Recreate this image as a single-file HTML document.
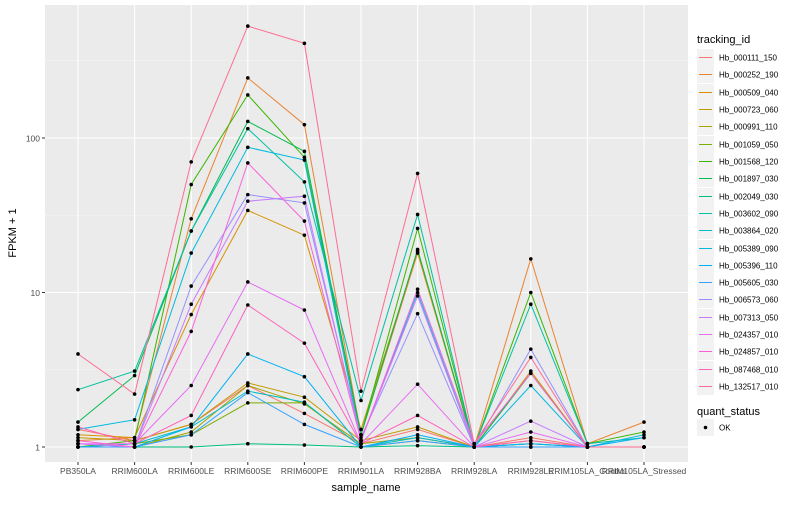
<!DOCTYPE html>
<html><head><meta charset="utf-8"><style>
body{margin:0;background:#fff;font-family:"Liberation Sans",sans-serif}
svg text{font-family:"Liberation Sans",sans-serif}
</style></head><body>
<svg id="c" width="800" height="500"></svg>
<script>
const categories=["PB350LA","RRIM600LA","RRIM600LE","RRIM600SE","RRIM600PE","RRIM901LA","RRIM928BA","RRIM928LA","RRIM928LE","RRIM105LA_Control","RRIM105LA_Stressed"];
const seriesNames=["Hb_000111_150","Hb_000252_190","Hb_000509_040","Hb_000723_060","Hb_000991_110","Hb_001059_050","Hb_001568_120","Hb_001897_030","Hb_002049_030","Hb_003602_090","Hb_003864_020","Hb_005389_090","Hb_005396_110","Hb_005605_030","Hb_006573_060","Hb_007313_050","Hb_024357_010","Hb_024857_010","Hb_087468_010","Hb_132517_010"];
const s01=[1.3,1.1,1.4,2.5,1.65,1.05,1.3,1.0,1.15,1.0,1.0];
const s02=[1.1,1.15,30,245,122,1.2,18,1.0,16.5,1.05,1.45];
const s03=[1.2,1.15,7.2,34,23.5,1.3,18.5,1.0,3.1,1.0,1.0];
const s04=[1.15,1.1,1.4,2.6,2.1,1.1,1.35,1.0,1.1,1.0,1.0];
const s05=[1.0,1.0,1.25,2.5,1.9,1.05,1.15,1.0,1.05,1.0,1.0];
const s06=[1.0,1.05,1.2,1.93,1.93,1.0,1.1,1.0,1.0,1.0,1.0];
const s07=[1.0,1.1,50,190,75,1.2,26,1.0,10,1.05,1.25];
const s08=[1.45,2.9,25,128,82,1.2,19,1.0,3.0,1.0,1.0];
const s09=[1.0,1.0,1.0,1.05,1.03,1.0,1.02,1.0,1.0,1.0,1.0];
const s10=[2.35,3.1,25,115,52,2.0,32,1.0,8.4,1.05,1.15];
const s11=[1.0,1.05,1.35,2.3,1.95,1.0,1.15,1.0,1.05,1.0,1.0];
const s12=[1.3,1.5,18,87,72,1.1,10,1.0,2.5,1.0,1.2];
const s13=[1.0,1.0,1.35,4.0,2.85,1.0,1.2,1.0,1.05,1.0,1.15];
const s14=[1.0,1.0,1.2,2.25,1.4,1.0,1.1,1.0,1.0,1.0,1.0];
const s15=[1.05,1.0,11,43,38,1.15,7.3,1.0,4.3,1.0,1.0];
const s16=[1.05,1.0,8.4,39,42,1.1,9.5,1.0,1.47,1.0,1.0];
const s17=[1.05,1.05,2.5,11.7,7.7,1.05,2.55,1.0,1.25,1.0,1.0];
const s18=[1.1,1.0,5.6,69,29,1.1,10.5,1.05,3.0,1.0,1.0];
const s19=[1.35,1.05,1.6,8.3,4.7,1.05,1.6,1.0,1.1,1.0,1.0];
const s20=[4.0,2.2,70,530,410,2.3,59,1.05,3.8,1.0,1.0];
const seriesValues=[s01,s02,s03,s04,s05,s06,s07,s08,s09,s10,s11,s12,s13,s14,s15,s16,s17,s18,s19,s20];
const colors=["#F8766D","#EA8331","#D89000","#C09B00","#A3A500","#7CAE00","#39B600","#00BB4E","#00BF7D","#00C1A3","#00BFC4","#00BAE0","#00B0F6","#35A2FF","#9590FF","#C77CFF","#E76BF3","#FA62DB","#FF62BC","#FF6C91"];
const yTicks=[1,10,100];
const yTickLabels=["1","10","100"];

const NS="http://www.w3.org/2000/svg";
const svg=document.getElementById('c');
const PL=45,PR=688,PT=5,PB=462;
function xPos(i){return 78+i*56.6;}
function yPos(v){return 447-Math.log10(v)*154.5;}
function mk(t,a,p){const e=document.createElementNS(NS,t);for(const k in a)e.setAttribute(k,a[k]);(p||svg).appendChild(e);return e;}

const panel=mk('rect',{x:PL,y:PT,width:PR-PL,height:PB-PT,fill:'#EBEBEB'});


[0.5,1.5,2.5].forEach(m=>{const y=447-m*154.5;if(y>PT)mk('line',{x1:PL,x2:PR,y1:y,y2:y,stroke:'#F5F5F5','stroke-width':0.6});});
yTicks.forEach((t,i)=>{const y=yPos(t);
 const g=mk('line',{x1:PL,x2:PR,y1:y,y2:y,stroke:'#fff','stroke-width':1.1});
 
 
 mk('line',{x1:PL-3,x2:PL,y1:y,y2:y,stroke:'#333'});
 const tx=mk('text',{x:PL-5,y:y+3.5,'text-anchor':'end','font-size':8.5,fill:'#4D4D4D'});tx.textContent=yTickLabels[i];
 
 
});
categories.forEach((c,i)=>{const x=xPos(i);
 mk('line',{x1:x,x2:x,y1:PT,y2:PB,stroke:'#fff','stroke-width':1.1});
 mk('line',{x1:x,x2:x,y1:PB,y2:PB+3,stroke:'#333'});
 const tx=mk('text',{x:x,y:PB+12,'text-anchor':'middle','font-size':8.5,fill:'#4D4D4D'});tx.textContent=c;
 
 
});
seriesValues.forEach((vals,si)=>{
 const pts=vals.map((v,i)=>xPos(i).toFixed(1)+','+yPos(v).toFixed(1)).join(' ');
 const pl=mk('polyline',{points:pts,fill:'none',stroke:colors[si],'stroke-width':1});
 
 
});
seriesValues.forEach((vals,si)=>{vals.forEach((v,i)=>{
 const p=mk('circle',{cx:xPos(i),cy:yPos(v),r:1.8,fill:'#000'});
 
 
});});
let t=mk('text',{x:366,y:491,'text-anchor':'middle','font-size':11,fill:'#000'});t.textContent='sample_name';


t=mk('text',{x:0,y:0,'text-anchor':'middle','font-size':11,fill:'#000',transform:'translate(16,233) rotate(-90)'});t.textContent='FPKM + 1';


t=mk('text',{x:697,y:43,'font-size':11,fill:'#000'});t.textContent='tracking_id';


seriesNames.forEach((n,i)=>{const y=Math.round(57+i*17.32)+0.5;
 const g=mk('g',{});
 
 
 mk('rect',{x:697,y:y-8.5,width:17,height:17,fill:'#F2F2F2'},g);
 mk('line',{x1:699,x2:712,y1:y,y2:y,stroke:colors[i],'stroke-width':1},g);
 const tx=mk('text',{x:719,y:y+3,'font-size':8,fill:'#000'},g);tx.textContent=n;
});
t=mk('text',{x:697,y:415,'font-size':11,fill:'#000'});t.textContent='quant_status';


const qg=mk('g',{});


mk('rect',{x:697,y:419,width:17,height:17,fill:'#F2F2F2'},qg);
mk('circle',{cx:705.5,cy:427.5,r:1.8,fill:'#000'},qg);
t=mk('text',{x:719,y:430.5,'font-size':8,fill:'#000'},qg);t.textContent='OK';
</script>
</body></html>
